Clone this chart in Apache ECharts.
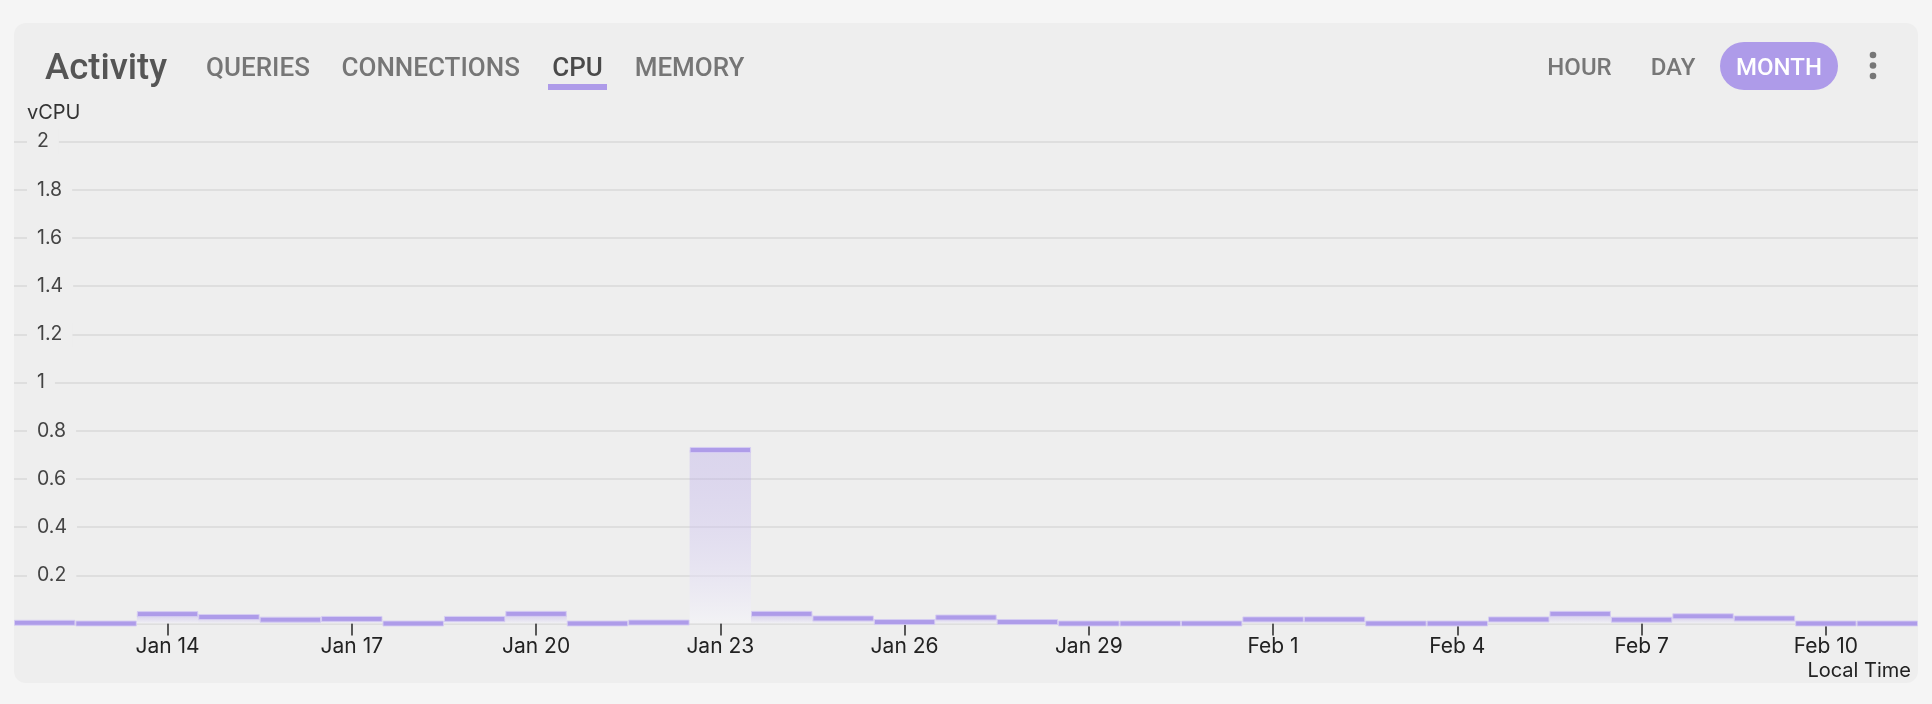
<!DOCTYPE html>
<html>
<head>
<meta charset="utf-8">
<script src="https://cdn.jsdelivr.net/npm/echarts@6/dist/echarts.min.js"></script>
<style>
  html, body { margin: 0; padding: 0; background: #f5f5f5; }
  #chart { width: 1932px; height: 704px; }
</style>
</head>
<body>
<div id="chart"></div>
<script>
// ---- data ----
var days = ['Jan 12','Jan 13','Jan 14','Jan 15','Jan 16','Jan 17','Jan 18','Jan 19','Jan 20','Jan 21',
            'Jan 22','Jan 23','Jan 24','Jan 25','Jan 26','Jan 27','Jan 28','Jan 29','Jan 30','Jan 31',
            'Feb 1','Feb 2','Feb 3','Feb 4','Feb 5','Feb 6','Feb 7','Feb 8','Feb 9','Feb 10','Feb 11'];
var cpu = [0.003, 0, 0.039, 0.027, 0.016, 0.019, 0, 0.019, 0.04, 0,
           0.004, 0.72, 0.04, 0.021, 0.006, 0.025, 0.006, 0, 0, 0,
           0.017, 0.017, 0, 0, 0.017, 0.04, 0.016, 0.03, 0.021, 0, 0];
var yTicks = [0, 0.2, 0.4, 0.6, 0.8, 1, 1.2, 1.4, 1.6, 1.8, 2];
var tabs = ['QUERIES', 'CONNECTIONS', 'CPU', 'MEMORY'];
var ranges = ['HOUR', 'DAY', 'MONTH'];

var chart = echarts.init(document.getElementById('chart'), null, { renderer: 'canvas' });
var ACCENT = '#ae9be9';

var tabX = [258, 430.7, 577.5, 689.5];
var rangeX = [1579.5, 1673, 1779];

var graphics = [
  { type: 'rect', z: -100, silent: true,
    shape: { x: 14, y: 23, width: 1904, height: 660, r: 12 },
    style: { fill: '#eeeeee' } },
  { type: 'text', x: 45, y: 69.5, style: { text: 'Activity', fill: '#555555',
      font: '500 36.5px Roboto', textAlign: 'left', textVerticalAlign: 'middle' } },
  { type: 'rect', shape: { x: 548, y: 84, width: 59, height: 6 }, style: { fill: ACCENT } },
  { type: 'rect', shape: { x: 1720, y: 42, width: 118, height: 48, r: 24 }, style: { fill: ACCENT } },
  { type: 'circle', shape: { cx: 1873, cy: 55, r: 3.3 }, style: { fill: '#777777' } },
  { type: 'circle', shape: { cx: 1873, cy: 65.5, r: 3.3 }, style: { fill: '#777777' } },
  { type: 'circle', shape: { cx: 1873, cy: 76, r: 3.3 }, style: { fill: '#777777' } },
  { type: 'text', x: 1911, y: 671, style: { text: 'Local Time', fill: '#222222',
      font: '20px Inter', textAlign: 'right', textVerticalAlign: 'middle' } }
];
tabs.forEach(function (t, i) {
  graphics.push({ type: 'text', x: tabX[i], y: 69, style: { text: t,
    fill: t === 'CPU' ? '#4a4a4a' : '#767676', font: '500 26px Roboto',
    textAlign: 'center', textVerticalAlign: 'middle' } });
});
ranges.forEach(function (t, i) {
  graphics.push({ type: 'text', x: rangeX[i], y: 68.5, style: { text: t,
    fill: t === 'MONTH' ? '#ffffff' : '#777777', font: '500 24px Roboto',
    textAlign: 'center', textVerticalAlign: 'middle' } });
});

var option = {
  backgroundColor: '#f5f5f5',
  animation: false,
  graphic: graphics,
  grid: { left: 14, right: 14, top: 141.5, bottom: 80.5, containLabel: false },
  xAxis: {
    type: 'category',
    data: days,
    boundaryGap: true,
    axisLine: { show: false },
    axisTick: {
      show: true, alignWithLabel: true, length: 12,
      interval: function (i) { return (i - 2) % 3 === 0; },
      lineStyle: { color: '#333333', width: 1.6 }
    },
    axisLabel: {
      interval: function (i) { return (i - 2) % 3 === 0; },
      margin: 13, color: '#222222', fontFamily: 'Inter', fontSize: 21
    },
    splitLine: { show: false }
  },
  yAxis: {
    type: 'value',
    min: yTicks[0], max: yTicks[yTicks.length - 1], interval: 0.2,
    name: 'vCPU',
    nameLocation: 'end',
    nameGap: 29,
    nameTextStyle: { color: '#333333', fontFamily: 'Inter', fontSize: 20,
      align: 'left', verticalAlign: 'middle', padding: [0, 0, 0, 13] },
    axisLine: { show: false },
    axisTick: { show: false },
    axisLabel: {
      inside: true, margin: 13, showMinLabel: false,
      color: '#444444', fontFamily: 'Inter', fontSize: 19.5,
      backgroundColor: '#eeeeee', padding: [2, 10, 2, 10]
    },
    splitLine: { show: true, lineStyle: { color: '#d8d8d8', width: 1.5 } }
  },
  series: [{
    type: 'custom',
    data: cpu.map(function (v, i) { return [i, v]; }),
    encode: { x: 0, y: 1 },
    clip: false,
    renderItem: function (params, api) {
      var idx = api.value(0);
      var v = api.value(1);
      var top = api.coord([idx, v]);
      var base = api.coord([idx, 0]);
      var w = api.size([1, 0])[0];
      var x0 = top[0] - w / 2;
      return {
        type: 'group',
        children: [
          { type: 'rect',
            shape: { x: x0, y: top[1], width: w, height: Math.max(0, base[1] - top[1]) },
            style: { fill: new echarts.graphic.LinearGradient(0, 0, 0, 1, [
              { offset: 0, color: 'rgba(174,155,233,0.30)' },
              { offset: 1, color: 'rgba(246,246,250,0.55)' }
            ]) } },
          { type: 'rect',
            shape: { x: x0 + 0.5, y: top[1] - 2.5, width: w - 1, height: 5 },
            style: { fill: '#ae9ce9', stroke: 'rgba(214,205,243,0.9)', lineWidth: 1 } }
        ]
      };
    }
  }]
};
chart.setOption(option);
</script>
</body>
</html>
